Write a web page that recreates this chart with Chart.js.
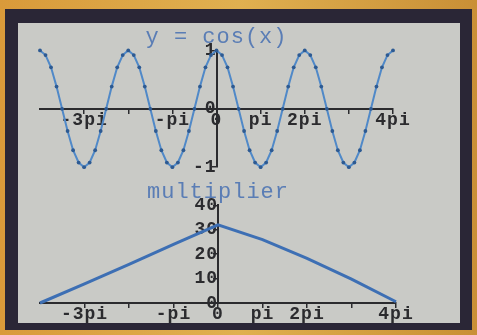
<!DOCTYPE html>
<html>
<head>
<meta charset="utf-8">
<script src="https://cdn.jsdelivr.net/npm/chart.js@4"></script>
<style>
html, body { margin: 0; padding: 0; }
body { width: 477px; height: 335px; position: relative; overflow: hidden;
       background: linear-gradient(90deg, #d99a3a, #e0b050 50%, #c98f36); }
#frame { position: absolute; left: 5px; top: 9px; width: 467px; height: 321px; background: #2a2636; }
#panel { position: absolute; left: 18px; top: 23px; width: 442px; height: 300px; background: #c9cac6; }
canvas { position: absolute; left: 0; }
#cosChart { top: 0; }
#multChart { top: 153px; }
</style>
</head>
<body>
<div id="frame"></div>
<div id="panel">
  <canvas id="cosChart" width="442" height="155"></canvas>
  <canvas id="multChart" width="442" height="147"></canvas>
</div>
<script>
// x positions are in units of pi
const cosX = [-4, -3.875, -3.75, -3.625, -3.5, -3.375, -3.25, -3.125,
              -3, -2.875, -2.75, -2.625, -2.5, -2.375, -2.25, -2.125,
              -2, -1.875, -1.75, -1.625, -1.5, -1.375, -1.25, -1.125,
              -1, -0.875, -0.75, -0.625, -0.5, -0.375, -0.25, -0.125,
              0, 0.125, 0.25, 0.375, 0.5, 0.625, 0.75, 0.875,
              1, 1.125, 1.25, 1.375, 1.5, 1.625, 1.75, 1.875,
              2, 2.125, 2.25, 2.375, 2.5, 2.625, 2.75, 2.875,
              3, 3.125, 3.25, 3.375, 3.5, 3.625, 3.75, 3.875, 4];
const cosY = [1, 0.92, 0.71, 0.38, 0, -0.38, -0.71, -0.92,
              -1, -0.92, -0.71, -0.38, 0, 0.38, 0.71, 0.92,
              1, 0.92, 0.71, 0.38, 0, -0.38, -0.71, -0.92,
              -1, -0.92, -0.71, -0.38, 0, 0.38, 0.71, 0.92,
              1, 0.92, 0.71, 0.38, 0, -0.38, -0.71, -0.92,
              -1, -0.92, -0.71, -0.38, 0, 0.38, 0.71, 0.92,
              1, 0.92, 0.71, 0.38, 0, -0.38, -0.71, -0.92,
              -1, -0.92, -0.71, -0.38, 0, 0.38, 0.71, 0.92, 1];

const multX = [-4, -3, -2, -1, 0, 1, 2, 3, 4];
const multY = [0, 7.8, 15.8, 24, 32, 26, 18.3, 9.8, 0.5];

const xTicks = [-3, -2, -1, 0, 1, 2, 3, 4];
const xTickLabels = ['-3pi', '', '-pi', '0', 'pi', '2pi', '', '4pi'];
const cosYTicks = [-1, 0, 1];
const multYTicks = [0, 10, 20, 30, 40];

const INK = '#2b2b2e';
const BLUE = '#5a7db5';
const tickFont = { family: 'Liberation Mono', size: 18, weight: 'bold' };

// LCD-ish wide lettering
const spacing = {
    id: 'spacing',
    beforeUpdate(c) { c.ctx.letterSpacing = '1px'; },
    beforeDraw(c) { c.ctx.letterSpacing = '1px'; }
};

function xScale() {
    return {
        type: 'linear', min: -4, max: 4,
        position: { y: 0 },
        afterBuildTicks: s => { s.ticks = xTicks.map(v => ({ value: v })); },
        ticks: {
            color: INK, font: tickFont, padding: -3, maxRotation: 0, autoSkip: false,
            callback: v => xTickLabels[xTicks.indexOf(v)]
        },
        grid: { drawOnChartArea: false, color: INK, tickLength: 4, lineWidth: 1.5 },
        border: { color: INK, width: 2 }
    };
}

function yScale(min, max, tickVals) {
    return {
        type: 'linear', min: min, max: max,
        position: { x: 0 },
        afterBuildTicks: s => { s.ticks = tickVals.map(v => ({ value: v })); },
        ticks: { color: INK, font: tickFont, padding: 0, autoSkip: false },
        grid: { drawOnChartArea: false, color: INK, tickLength: 4, lineWidth: 1.5 },
        border: { color: INK, width: 2 }
    };
}

function titleOpts(text) {
    return {
        display: true, text: text, color: BLUE, fullSize: false,
        font: { family: 'Liberation Mono', size: 22, weight: 'normal' },
        padding: 0
    };
}

new Chart(document.getElementById('cosChart'), {
    type: 'line',
    data: {
        datasets: [{
            data: cosX.map((x, i) => ({ x: x, y: cosY[i] })),
            borderColor: '#5089c8',
            borderWidth: 2,
            pointRadius: 1.9,
            pointBackgroundColor: '#2d5a92',
            pointBorderWidth: 0,
            tension: 0,
            clip: false
        }]
    },
    options: {
        responsive: false,
        animation: false,
        layout: { padding: { left: 22, right: 67, top: 1, bottom: 10 } },
        scales: { x: xScale(), y: yScale(-1, 1, cosYTicks) },
        plugins: { legend: { display: false }, tooltip: { enabled: false }, title: titleOpts('y = cos(x)') }
    },
    plugins: [spacing]
});

new Chart(document.getElementById('multChart'), {
    type: 'line',
    data: {
        datasets: [{
            data: multX.map((x, i) => ({ x: x, y: multY[i] })),
            borderColor: '#3d6fb4',
            borderWidth: 3,
            pointRadius: 0,
            tension: 0,
            clip: false
        }]
    },
    options: {
        responsive: false,
        animation: false,
        layout: { padding: { left: 22, right: 64, top: 3, bottom: 20 } },
        scales: { x: xScale(), y: yScale(0, 40, multYTicks) },
        plugins: { legend: { display: false }, tooltip: { enabled: false }, title: titleOpts('multiplier') }
    },
    plugins: [spacing]
});
</script>
</body>
</html>
